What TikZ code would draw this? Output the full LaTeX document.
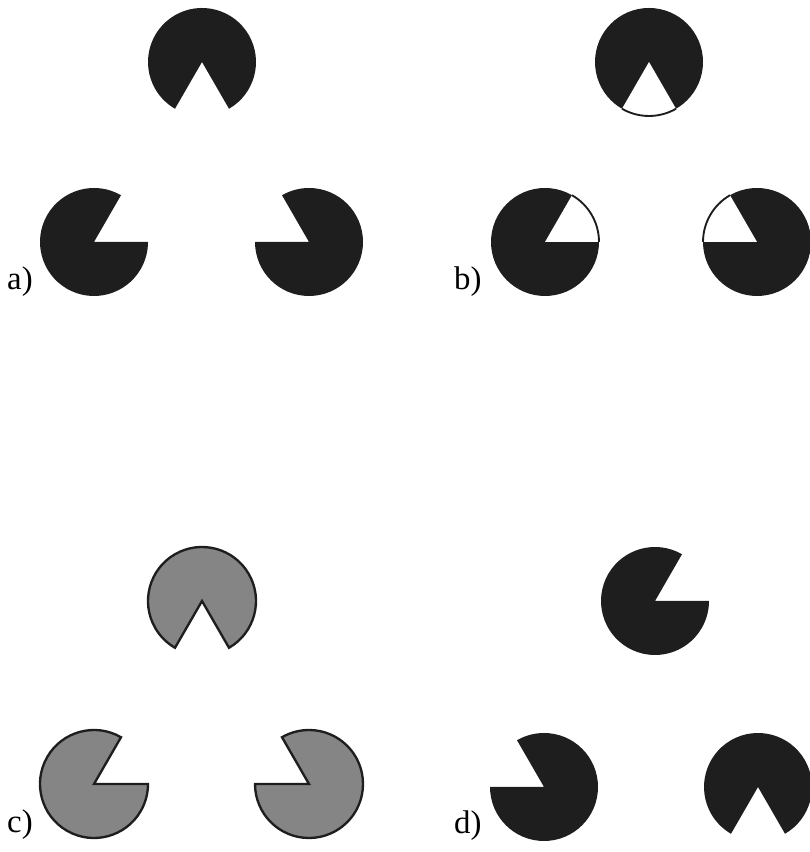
\documentclass[tikz,border=0pt]{standalone}
\usepackage{fontspec}
\setmainfont{Liberation Serif}
\usetikzlibrary{calc}
\definecolor{ink}{HTML}{1E1E1E}
\definecolor{mid}{HTML}{858585}
\newcommand{\rad}{54}
% pacman with a 60 degree mouth starting at angle #2
\newcommand{\pacman}[3]{%
  \path[#3] (#1) -- +(#2+60:\rad) arc[start angle=#2+60, end angle=#2+360, radius=\rad] -- cycle;}

\begin{document}
\begin{tikzpicture}[x=0.03cm, y=0.03cm,
    solid/.style={fill=ink},
    grey/.style={fill=mid, draw=ink, line width=2pt, line join=miter},
    tag/.style={anchor=base west, inner sep=0pt, font=\fontsize{28}{30}\selectfont}]
  \useasboundingbox (0,0) rectangle (809,852);
  % panel a
  \coordinate (atop) at (202,790);
  \coordinate (aleft) at (94,610);
  \coordinate (aright) at (309,610);
  \pacman{atop}{240}{solid}
  \pacman{aleft}{0}{solid}
  \pacman{aright}{120}{solid}
  \node[tag] (la) at (7,562) {a)};
  % panel b
  \coordinate (btop) at (649,790);
  \coordinate (bleft) at (545,610);
  \coordinate (bright) at (757,610);
  \foreach \c/\m in {btop/240, bleft/0, bright/120} {
    \fill[ink] (\c) circle[radius=\rad];
    \fill[white] (\c) -- +(\m:\rad) arc[start angle=\m, end angle=\m+60, radius=\rad] -- cycle;
    \draw[ink, line width=1.6pt] ($(\c)+(\m:\rad)$) arc[start angle=\m, end angle=\m+60, radius=\rad];
  }
  \node[tag] (lb) at (454,562) {b)};
  % panel c
  \coordinate (ctop) at (202,251);
  \coordinate (cleft) at (94,68);
  \coordinate (cright) at (309,68);
  \pacman{ctop}{240}{grey}
  \pacman{cleft}{0}{grey}
  \pacman{cright}{120}{grey}
  \node[tag] (lc) at (7,19) {c)};
  % panel d
  \coordinate (dtop) at (655,251);
  \coordinate (dleft) at (544,65);
  \coordinate (dright) at (758,65);
  \pacman{dtop}{0}{solid}
  \pacman{dleft}{120}{solid}
  \pacman{dright}{240}{solid}
  \node[tag] (ld) at (454,18) {d)};
\end{tikzpicture}
\end{document}
